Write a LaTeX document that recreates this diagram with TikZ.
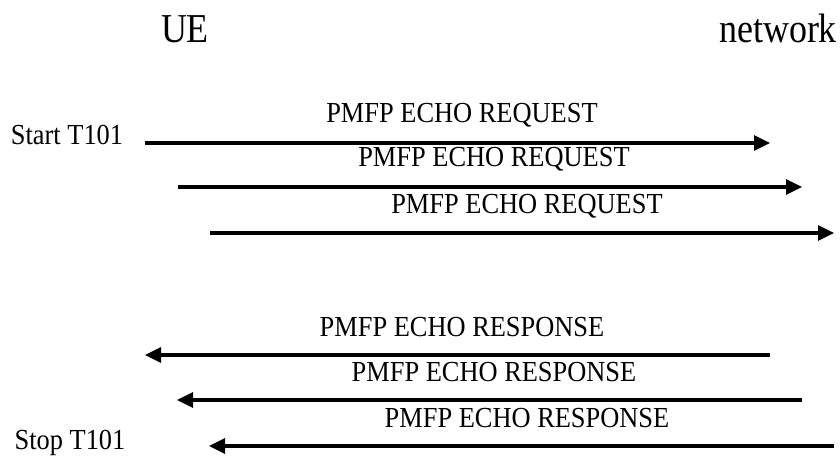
\documentclass[tikz,border=0pt]{standalone}
\usepackage{fontspec}
\setmainfont{Liberation Serif}
\usetikzlibrary{arrows.meta}
\newcommand\tallsmall[1]{\scalebox{1}[1.1]{#1}}
\newcommand\tallbig[1]{\scalebox{1}[1.14]{#1}}
\begin{document}
\begin{tikzpicture}[x=1pt,y=-1pt,
  msg/.style={line width=3.1pt,-{Triangle[length=16pt,width=15pt]}},
  lbl/.style={anchor=base,inner sep=0pt,font=\fontsize{26.4}{30}\selectfont},
  head/.style={anchor=base,inner sep=0pt,font=\fontsize{36}{40}\selectfont}]
\useasboundingbox (0,0) rectangle (840,457);
% endpoints
\node (ue) at (185,43) [head] {\tallbig{UE}};
\node (net) at (778,43) [head] {\tallbig{network}};
\node (start) at (67,145) [lbl] {\tallsmall{Start T101}};
\node (stop) at (70,449) [lbl] {\tallsmall{Stop T101}};
\coordinate (r1a) at (145,143);
\coordinate (r1b) at (770,143);
\coordinate (r2a) at (178,187);
\coordinate (r2b) at (802,187);
\coordinate (r3a) at (210,233);
\coordinate (r3b) at (834,233);
\coordinate (s1a) at (770,355);
\coordinate (s1b) at (145,355);
\coordinate (s2a) at (802,400);
\coordinate (s2b) at (177,400);
\coordinate (s3a) at (834,446);
\coordinate (s3b) at (209,446);
% labels
\node (q1) at (462,123) [lbl] {\tallsmall{PMFP ECHO REQUEST}};
\node (q2) at (494,167) [lbl] {\tallsmall{PMFP ECHO REQUEST}};
\node (q3) at (527,213) [lbl] {\tallsmall{PMFP ECHO REQUEST}};
\node (p1) at (462,336) [lbl] {\tallsmall{PMFP ECHO RESPONSE}};
\node (p2) at (494,381) [lbl] {\tallsmall{PMFP ECHO RESPONSE}};
\node (p3) at (527,427) [lbl] {\tallsmall{PMFP ECHO RESPONSE}};
% messages
\draw[msg] (r1a) -- (r1b);
\draw[msg] (r2a) -- (r2b);
\draw[msg] (r3a) -- (r3b);
\draw[msg] (s1a) -- (s1b);
\draw[msg] (s2a) -- (s2b);
\draw[msg] (s3a) -- (s3b);
\end{tikzpicture}
\end{document}
